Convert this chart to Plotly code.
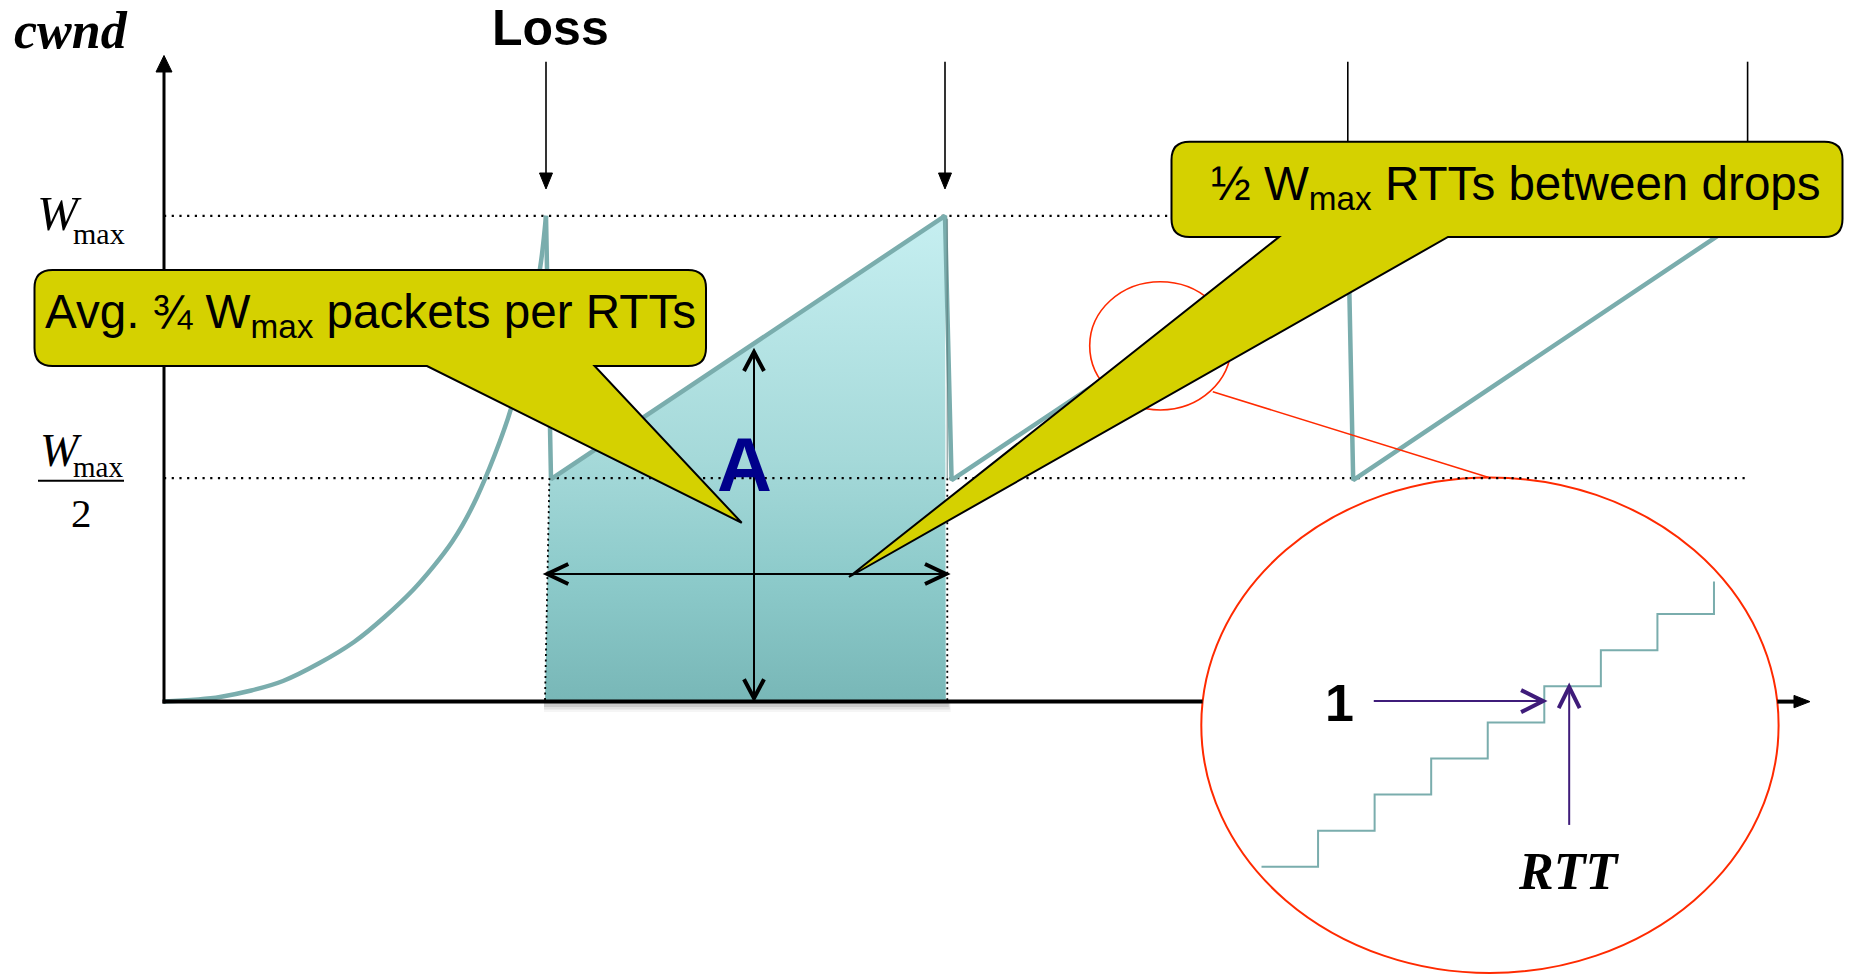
import plotly.graph_objects as go

FIG_W, FIG_H = 1849, 975

# ---------------- data ----------------
# time in loss periods, cwnd in units of W_max
slow_start_time = [0.0, 0.14, 0.2975, 0.475, 0.6225, 0.72, 0.7825, 0.8675, 0.94, 0.955]
slow_start_cwnd = [0.0, 0.0095, 0.0424, 0.1227, 0.2297, 0.3285, 0.4211, 0.6032, 0.8914, 1.0]
sawtooth_time = [0.955, 0.9675, 1.9525, 1.969, 2.9595, 2.973, 3.959]
sawtooth_cwnd = [1.0, 0.458, 1.0, 0.456, 1.0, 0.456, 1.0]
loss_times = [0.955, 1.9525, 2.9595, 3.959]
level_cwnd = [1.0, 0.46]          # W_max line and W_max/2 line (as drawn)
area_time = [0.9525, 0.9635, 1.9525, 1.9545, 0.9525]
area_cwnd = [0.0, 0.46, 1.0, 0.0, 0.0]
stair_rtt = [0, 1, 2, 3, 4, 5, 6, 7, 8]
stair_cwnd = [0, 1, 2, 3, 4, 5, 6, 7, 7.9]

callout_texts = ["Avg. ¾ W<sub>max</sub> packets per RTTs",
                 "½ W<sub>max</sub> RTTs between drops"]

# ---------------- geometry / styles ----------------
X0, KX = 164.0, 400.0        # px of t=0, px per period
Y0, KY = 701.6, 485.8        # px of cwnd=0, px per W_max
SX0, SKX = 1261.5, 56.56     # stair axes
SY0, SKY = 866.8, 36.1

TEAL = "#7aadad"
YELLOW = "#d5d100"
RED = "#ff2a00"
PURPLE = "#3f1c7a"
SANS = "Liberation Sans, Arial, sans-serif"
SERIF = "Liberation Serif, Times New Roman, serif"


def XP(px):
    return px / FIG_W


def YP(py):
    return 1 - py / FIG_H


def tx(t):
    return X0 + t * KX


def wy(w):
    return Y0 - w * KY


def sx(k):
    return SX0 + k * SKX


def sy(k):
    return SY0 - k * SKY


def pt(x, y):
    return f"{XP(x):.6f},{YP(y):.6f}"


def line_px(x0, y0, x1, y1, color="black", width=2, dash=None, layer="above"):
    d = dict(color=color, width=width)
    if dash:
        d["dash"] = dash
    return dict(type="line", xref="paper", yref="paper", x0=XP(x0), y0=YP(y0),
                x1=XP(x1), y1=YP(y1), line=d, layer=layer)


def poly_px(points, fill=None, color="black", width=2, closed=True, layer="above"):
    p = "M " + " L ".join(pt(x, y) for x, y in points)
    if closed:
        p += " Z"
    return dict(type="path", xref="paper", yref="paper", path=p,
                fillcolor=fill if fill else "rgba(0,0,0,0)",
                line=dict(color=color, width=width), layer=layer)


def ellipse_px(x0, y0, x1, y1, color, width, fill=None, layer="above"):
    return dict(type="circle", xref="paper", yref="paper", x0=XP(x0), y0=YP(y1),
                x1=XP(x1), y1=YP(y0), line=dict(color=color, width=width),
                fillcolor=fill if fill else "rgba(0,0,0,0)", layer=layer)


def callout(x0, y0, x1, y1, r, ta, tb, tip):
    p = (f"M {pt(x0 + r, y0)} L {pt(x1 - r, y0)} Q {pt(x1, y0)} {pt(x1, y0 + r)} "
         f"L {pt(x1, y1 - r)} Q {pt(x1, y1)} {pt(x1 - r, y1)} L {pt(tb, y1)} "
         f"L {pt(*tip)} L {pt(ta, y1)} L {pt(x0 + r, y1)} Q {pt(x0, y1)} {pt(x0, y1 - r)} "
         f"L {pt(x0, y0 + r)} Q {pt(x0, y0)} {pt(x0 + r, y0)} Z")
    return dict(type="path", xref="paper", yref="paper", path=p, fillcolor=YELLOW,
                line=dict(color="black", width=2), layer="above")


fig = go.Figure()

# shaded area A
fig.add_trace(go.Scatter(
    x=area_time, y=area_cwnd, mode="lines", fill="toself",
    fillgradient=dict(type="vertical", start=0, stop=1,
                      colorscale=[[0, "#78b7b7"], [0.25, "#8ccaca"],
                                  [0.5, "#a5d9d9"], [1, "#c6eff1"]]),
    line=dict(width=0, color="rgba(0,0,0,0)"), hoverinfo="skip"))

# dotted W_max and W_max/2 lines
for lev in level_cwnd:
    fig.add_trace(go.Scatter(
        x=[0, loss_times[-1]], y=[lev, lev], mode="lines",
        line=dict(color="black", width=2.2, dash="2.2px,5.5px"), hoverinfo="skip"))

# slow start curve and sawtooth
fig.add_trace(go.Scatter(x=slow_start_time, y=slow_start_cwnd, mode="lines",
                         line=dict(color=TEAL, width=4.5, shape="spline", smoothing=0.8),
                         hoverinfo="skip"))
fig.add_trace(go.Scatter(x=sawtooth_time, y=sawtooth_cwnd, mode="lines",
                         line=dict(color=TEAL, width=4.5), hoverinfo="skip"))

# magnified staircase (own axes)
fig.add_trace(go.Scatter(x=stair_rtt, y=stair_cwnd, mode="lines", xaxis="x2", yaxis="y2",
                         line=dict(color=TEAL, width=2, shape="hv"), hoverinfo="skip"))

shapes = []

# soft shadow under the shaded area
for i, a in enumerate([0.10, 0.07, 0.04]):
    shapes.append(dict(type="rect", xref="paper", yref="paper",
                       x0=XP(tx(area_time[0]) - 1), x1=XP(tx(area_time[3]) + 3 + i),
                       y0=YP(Y0 + 3 + 2.5 * (i + 1)), y1=YP(Y0 + 1),
                       fillcolor=f"rgba(0,0,0,{a})", line=dict(width=0), layer="below"))

# big magnifier ellipse (white, below traces)
E = (1201.3, 477.5, 1778.6, 973.0)
shapes.append(ellipse_px(*E, color=RED, width=2, fill="white", layer="below"))
ecx, ecy = (E[0] + E[2]) / 2, (E[1] + E[3]) / 2
erx, ery = (E[2] - E[0]) / 2, (E[3] - E[1]) / 2
dx = erx * (1 - ((Y0 - ecy) / ery) ** 2) ** 0.5

# axes
shapes.append(line_px(162.5, Y0, ecx - dx, Y0, width=4))
shapes.append(line_px(ecx + dx, Y0, 1796, Y0, width=4))
shapes.append(poly_px([(1794, 695.4), (1810, Y0), (1794, 707.8)], fill="black", width=1))
shapes.append(line_px(164, 703.5, 164, 70, width=3))
shapes.append(poly_px([(156, 72), (164, 55.5), (172, 72)], fill="black", width=1))

# fraction bar of W_max/2
shapes.append(line_px(38, 480.7, 124, 480.7, width=2))

# dotted edges of the area
shapes.append(line_px(tx(area_time[1]), wy(level_cwnd[1]), tx(area_time[0]), Y0 - 1,
                      width=1.8, dash="2px,3.5px"))
shapes.append(line_px(tx(area_time[3]) + 1.5, wy(level_cwnd[1]), tx(area_time[3]) + 1.5, Y0 - 1,
                      width=1.8, dash="2px,3.5px"))
shapes.append(line_px(tx(area_time[3]) + 1.5, wy(1.0) + 3, tx(area_time[3]) + 1.5,
                      wy(level_cwnd[1]), color="rgba(90,120,120,0.6)", width=1.5))

# double arrows inside area
hy = 574
xl, xr = tx(area_time[0]) + 2.3, tx(area_time[3]) + 0.2
shapes.append(line_px(xl, hy, xr, hy, width=2))
shapes.append(poly_px([(xl + 21, hy - 10), (xl, hy), (xl + 21, hy + 10)], width=4, closed=False))
shapes.append(poly_px([(xr - 21, hy - 10), (xr, hy), (xr - 21, hy + 10)], width=4, closed=False))
vx, vt, vb = 754, 352, 698.3
shapes.append(line_px(vx, vt, vx, vb, width=2))
shapes.append(poly_px([(vx - 10, vt + 19), (vx, vt), (vx + 10, vt + 19)], width=4, closed=False))
shapes.append(poly_px([(vx - 10, vb - 19), (vx, vb), (vx + 10, vb - 19)], width=4, closed=False))

# loss arrows
for t in loss_times:
    x = tx(t)
    shapes.append(line_px(x, 61.7, x, 176, width=1.6))
    shapes.append(poly_px([(x - 6.5, 173), (x + 6.5, 173), (x, 189)], fill="black", width=1))

# small ellipse and connector
shapes.append(ellipse_px(1089.7, 281.7, 1231, 410, color=RED, width=1.6))
shapes.append(line_px(1212.8, 391.7, 1488.8, 477.5, color=RED, width=1.6))

# purple arrows in magnifier
ay = sy(4.59)
ax0, ax1 = sx(1.985), sx(5.0) - 1.2
shapes.append(line_px(ax0, ay, ax1, ay, color=PURPLE, width=2))
shapes.append(poly_px([(ax1 - 22, ay - 11), (ax1, ay), (ax1 - 22, ay + 11)],
                      color=PURPLE, width=4, closed=False))
bx, by0, by1 = sx(5.44), sy(1.16), sy(4.98)
shapes.append(line_px(bx, by0, bx, by1, color=PURPLE, width=2))
shapes.append(poly_px([(bx - 10.5, by1 + 21), (bx, by1), (bx + 10.5, by1 + 21)],
                      color=PURPLE, width=4, closed=False))

# callouts
shapes.append(callout(34.5, 270, 706, 366, 18, 427, 594.6, (741.7, 522.8)))
shapes.append(callout(1171.5, 141.7, 1842.5, 237, 18, 1279, 1448, (849, 577)))

annotations = []


def txt(text, x, y, size, family=SANS, color="black"):
    annotations.append(dict(text=text, x=XP(x), y=YP(y), xref="paper", yref="paper",
                            xanchor="center", yanchor="middle", showarrow=False,
                            font=dict(size=size, family=family, color=color)))


txt("<b><i>cwnd</i></b>", 70.5, 30.5, 52, SERIF)
txt("<b>Loss</b>", 550, 28, 50)
txt("<i>W</i>", 59.5, 213.8, 49, SERIF)
txt("max", 99.4, 233.5, 30, SERIF)
txt("<i>W</i>", 60.6, 450.5, 46, SERIF)
txt("max", 97.5, 467, 29, SERIF)
txt("2", 81.3, 512.5, 41, SERIF)
txt("<b>A</b>", 744.6, 464.2, 76, SANS, "#00008b")
txt("<b>1</b>", 1339.5, 702.7, 52)
txt("<b><i>RTT</i></b>", 1568.6, 871.1, 52, SERIF)
txt(callout_texts[0], 370.3, 314.5, 47.6)
txt(callout_texts[1], 1516.3, 187.2, 47.6)

fig.update_layout(
    width=FIG_W, height=FIG_H, autosize=False,
    margin=dict(l=0, r=0, t=0, b=0, pad=0),
    plot_bgcolor="white", paper_bgcolor="white", showlegend=False,
    xaxis=dict(range=[-X0 / KX, (FIG_W - X0) / KX], visible=False, fixedrange=True),
    yaxis=dict(range=[(Y0 - FIG_H) / KY, Y0 / KY], visible=False, fixedrange=True),
    xaxis2=dict(range=[-SX0 / SKX, (FIG_W - SX0) / SKX], visible=False,
                overlaying="x", anchor="y2", fixedrange=True),
    yaxis2=dict(range=[(SY0 - FIG_H) / SKY, SY0 / SKY], visible=False,
                overlaying="y", anchor="x2", fixedrange=True),
    shapes=shapes, annotations=annotations,
)

fig.write_html("out.html", config={"displayModeBar": False},
               post_script="document.body.style.margin='0';document.body.style.overflow='hidden';")
